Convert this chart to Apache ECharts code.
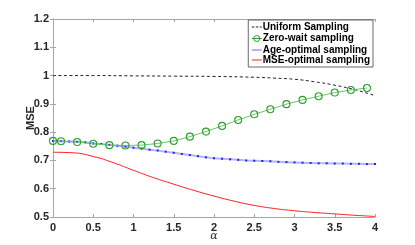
<!DOCTYPE html>
<html><head><meta charset="utf-8">
<script src="https://cdn.jsdelivr.net/npm/echarts@6/dist/echarts.min.js"></script>
<style>html,body{margin:0;padding:0;background:#fff}#c{width:415px;height:245px}</style>
</head><body><div id="c"></div>
<script>
const xTicks = [0, 0.5, 1, 1.5, 2, 2.5, 3, 3.5, 4];
const yTicks = [0.5, 0.6, 0.7, 0.8, 0.9, 1, 1.1, 1.2];

const uniformX = [0, 0.5, 1, 1.5, 2, 2.5, 2.75, 3, 3.25, 3.5, 3.75, 4];
const uniformY = [1.0, 1.0, 0.999, 0.998, 0.997, 0.994, 0.991, 0.987, 0.978, 0.966, 0.950, 0.929];

const zeroWaitX = [0, 0.1, 0.3, 0.5, 0.7, 0.9, 1.1, 1.3, 1.5, 1.7, 1.9, 2.1, 2.3, 2.5, 2.7, 2.9, 3.1, 3.3, 3.5, 3.7, 3.9];
const zeroWaitY = [0.769, 0.768, 0.765, 0.759, 0.754, 0.753, 0.754, 0.760, 0.769, 0.784, 0.802, 0.822, 0.843, 0.863, 0.881, 0.899, 0.914, 0.927, 0.940, 0.949, 0.956];

const ageX = [0, 0.1, 0.2, 0.3, 0.4, 0.5, 0.6, 0.7, 0.8, 0.9, 1.0, 1.1, 1.2, 1.3, 1.4, 1.5, 1.6, 1.7, 1.8, 1.9, 2.0,
              2.1, 2.2, 2.3, 2.4, 2.5, 2.6, 2.7, 2.8, 2.9, 3.0, 3.1, 3.2, 3.3, 3.4, 3.5, 3.6, 3.7, 3.8, 3.9, 4.0];
const ageY = [0.769, 0.768, 0.767, 0.766, 0.764, 0.760, 0.758, 0.755, 0.752, 0.749, 0.745, 0.742, 0.738, 0.735, 0.731, 0.727, 0.723, 0.719, 0.715, 0.711, 0.708,
              0.706, 0.704, 0.702, 0.700, 0.699, 0.698, 0.697, 0.695, 0.694, 0.693, 0.692, 0.691, 0.690, 0.690, 0.689, 0.689, 0.688, 0.688, 0.687, 0.687];

const mseX = [0, 0.25, 0.5, 0.75, 1, 1.25, 1.5, 1.75, 2, 2.25, 2.5, 2.75, 3, 3.25, 3.5, 3.75, 4];
const mseY = [0.729, 0.727, 0.714, 0.692, 0.665, 0.639, 0.616, 0.594, 0.574, 0.556, 0.541, 0.530, 0.522, 0.516, 0.511, 0.506, 0.502];

const names = ['Uniform Sampling', 'Zero-wait sampling', 'Age-optimal sampling', 'MSE-optimal sampling'];

const zip = (a, b) => a.map((v, i) => [v, b[i]]);
const FONT = '"Liberation Sans", Arial, Helvetica, sans-serif';
const axisCol = '#a6a6a6';
const labelCol = '#262626';
const fmt = v => String(parseFloat(v.toFixed(1)));

// legend glyphs (filled shapes in a 10x8 box)
const ICON_DASH = 'path://M0,0M10,8M0,3.5h2.5v1h-2.5zM4,3.5h2.5v1h-2.5zM8,3.5h2v1h-2z';
const ICON_CIRC = 'path://M0,0M10,8M0,4L10,4M8,4A3,3,0,1,1,2,4A3,3,0,1,1,8,4';
const ICON_BAR2 = 'path://M0,0M10,8M0,3.2h10v1.6h-10z';
const ICON_BAR1 = 'path://M0,0M10,8M0,3.5h10v1h-10z';

const chart = echarts.init(document.getElementById('c'), null, {renderer: 'canvas'});
const baseX = {
  type: 'value', min: xTicks[0], max: xTicks[xTicks.length - 1], interval: 0.5,
  axisLine: {show: true, lineStyle: {color: axisCol, width: 1}},
  axisTick: {show: true, inside: true, length: 3, lineStyle: {color: axisCol}},
  splitLine: {show: false}
};
const baseY = {
  type: 'value', min: yTicks[0], max: yTicks[yTicks.length - 1], interval: 0.1,
  axisLine: {show: true, lineStyle: {color: axisCol, width: 1}},
  axisTick: {show: true, inside: true, length: 3, lineStyle: {color: axisCol}},
  splitLine: {show: false}
};
chart.setOption({
  animation: false,
  backgroundColor: '#fff',
  grid: {left: 53, right: 40, top: 19, bottom: 28, containLabel: false, outerBoundsMode: 'none'},
  xAxis: [
    Object.assign({}, baseX, {
      position: 'bottom',
      name: 'α', nameLocation: 'middle', nameGap: 14, nameMoveOverlap: false,
      nameTextStyle: {fontFamily: '"DejaVu Serif", serif', fontStyle: 'italic', fontSize: 11, color: labelCol},
      axisLabel: {show: true, margin: 5, color: labelCol, fontFamily: FONT, fontWeight: 'bold', fontSize: 11, formatter: fmt}
    }),
    Object.assign({}, baseX, {position: 'top', axisLabel: {show: false}})
  ],
  yAxis: [
    Object.assign({}, baseY, {
      position: 'left',
      name: 'MSE', nameLocation: 'middle', nameGap: 17, nameRotate: 90, nameMoveOverlap: false,
      nameTextStyle: {fontFamily: FONT, fontWeight: 'bold', fontSize: 11, color: labelCol},
      axisLabel: {show: true, margin: 4, color: labelCol, fontFamily: FONT, fontWeight: 'bold', fontSize: 11, formatter: fmt}
    }),
    Object.assign({}, baseY, {position: 'right', axisLabel: {show: false}})
  ],
  legend: {
    show: true, orient: 'vertical', right: 42, top: 20,
    data: [
      {name: names[0], icon: ICON_DASH, itemStyle: {color: '#222', borderWidth: 0}},
      {name: names[1], icon: ICON_CIRC, itemStyle: {color: 'none', borderColor: '#2ca02c', borderWidth: 1}},
      {name: names[2], icon: ICON_BAR2, itemStyle: {color: '#a0a0ff', borderWidth: 0}},
      {name: names[3], icon: ICON_BAR1, itemStyle: {color: '#ff2020', borderWidth: 0}}
    ],
    backgroundColor: '#fff', borderColor: '#444', borderWidth: 0.8,
    padding: [2, 3, 2, 1], itemGap: 0, itemWidth: 10, itemHeight: 8,
    textStyle: {fontFamily: FONT, fontWeight: 'bold', fontSize: 10, color: '#000', padding: [1, 0, 1, -4]}
  },
  series: [
    {name: names[0], type: 'line', data: zip(uniformX, uniformY), smooth: true, symbol: 'none',
     lineStyle: {color: '#222', width: 1, type: [3, 2.5]}, itemStyle: {color: '#222'}, z: 3},
    {name: names[1], type: 'line', data: zip(zeroWaitX, zeroWaitY), symbol: 'circle', symbolSize: 7, showSymbol: true,
     lineStyle: {color: '#6cc46c', width: 1}, itemStyle: {color: 'rgba(255,255,255,0)', borderColor: '#2ca02c', borderWidth: 1.1}, z: 4},
    {name: names[2], type: 'line', data: zip(ageX, ageY), symbol: 'rect', symbolSize: 2, showSymbol: true,
     lineStyle: {color: '#b4b4ff', width: 2}, itemStyle: {color: '#2020ff'}, z: 2},
    {name: names[3], type: 'line', data: zip(mseX, mseY), smooth: true, symbol: 'none',
     lineStyle: {color: '#ff2020', width: 1}, itemStyle: {color: '#ff2020'}, z: 2}
  ]
});
</script></body></html>
